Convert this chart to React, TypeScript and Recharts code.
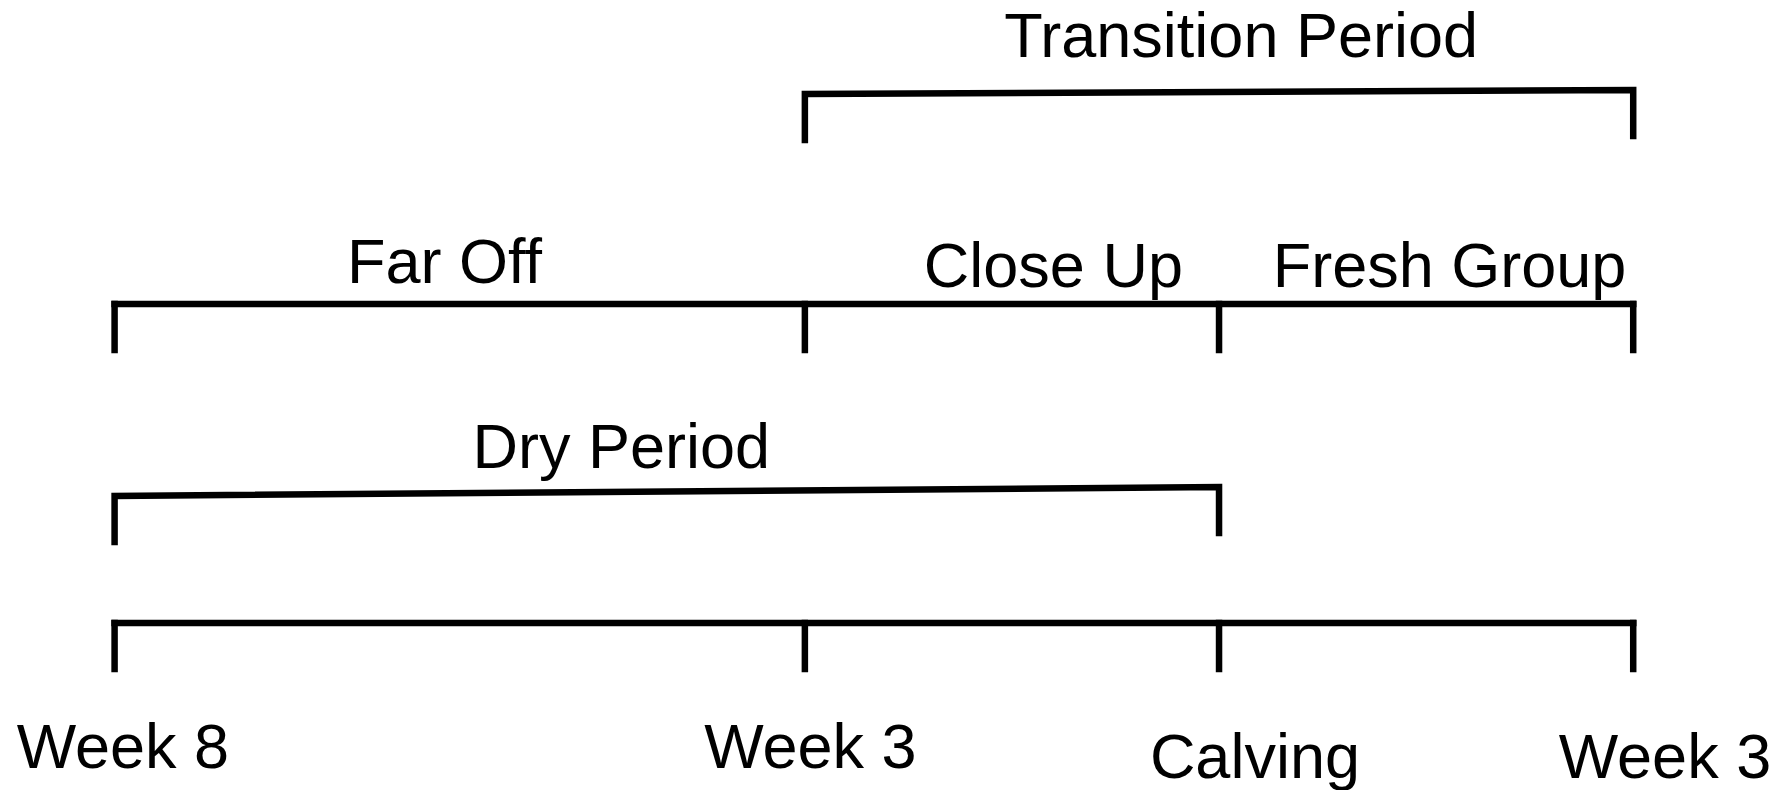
import React from 'react'
import { ComposedChart, Line, Scatter, XAxis, YAxis } from 'recharts'

// timeline, in weeks around calving
const weekTicks = [-8, -3, 0, 3]
const weekLabels = ['Week 8', 'Week 3', 'Calving', 'Week 3']
const weekLabelAt = [-7.94, -2.96, 0.26, 3.23]

// groups between consecutive ticks
const groupNames = ['Far Off', 'Close Up', 'Fresh Group']
const groupLabelAt = [-5.61, -1.2, 1.67]

// brackets spanning several groups
const periodNames = ['Dry Period', 'Transition Period']
const periodStart = [-8, -3]
const periodEnd = [0, 3]
const periodLabelAt = [-4.33, 0.16]

// layout (y in page pixels)
const W = 1783
const H = 790
const weekRowY = 623
const weekTextY = [768, 768, 778, 778]
const groupRowY = 304
const groupTextY = [283, 287, 287]
const periodBarY = [[496, 487], [94, 90]]
const periodTextY = [468, 57]
const tickLen = 46
const font = '"Liberation Sans", Arial, Helvetica, sans-serif'

type Pt = { x: number; y: number; name?: string }

const segments: Pt[][] = []

// bottom timeline
segments.push([{ x: weekTicks[0], y: weekRowY }, { x: weekTicks[weekTicks.length - 1], y: weekRowY }])
weekTicks.forEach(w => segments.push([{ x: w, y: weekRowY }, { x: w, y: weekRowY + tickLen }]))

// group row
segments.push([{ x: weekTicks[0], y: groupRowY }, { x: weekTicks[weekTicks.length - 1], y: groupRowY }])
weekTicks.forEach(w => segments.push([{ x: w, y: groupRowY }, { x: w, y: groupRowY + tickLen }]))

// period brackets
periodNames.forEach((_, i) => {
    const [yl, yr] = periodBarY[i]
    segments.push([
        { x: periodStart[i], y: yl + tickLen },
        { x: periodStart[i], y: yl },
        { x: periodEnd[i], y: yr },
        { x: periodEnd[i], y: yr + tickLen },
    ])
})

const labels: Pt[] = [
    ...weekLabels.map((name, i) => ({ x: weekLabelAt[i], y: weekTextY[i], name })),
    ...groupNames.map((name, i) => ({ x: groupLabelAt[i], y: groupTextY[i], name })),
    ...periodNames.map((name, i) => ({ x: periodLabelAt[i], y: periodTextY[i], name })),
]

const renderLabel = (props: any) => (
    <text x={props.cx} y={props.cy} textAnchor="middle" fontSize={63} fontFamily={font} fill="#000">
        {props.payload.name}
    </text>
)

export default function App() {
    return (
        <div style={{ position: 'absolute', left: 0, top: 0, background: '#fff' }}>
            <ComposedChart width={W} height={H} margin={{ top: 0, right: 0, bottom: 0, left: 0 }}>
                <XAxis type="number" dataKey="x" domain={[-8.83, 4.085]} allowDataOverflow hide />
                <YAxis type="number" dataKey="y" domain={[0, H]} reversed allowDataOverflow hide />
                {segments.map((seg, i) => (
                    <Line
                        key={'seg' + i}
                        data={seg}
                        dataKey="y"
                        stroke="#000"
                        strokeWidth={6.5}
                        strokeLinejoin="miter"
                        strokeLinecap="square"
                        dot={false}
                        activeDot={false}
                        isAnimationActive={false}
                    />
                ))}
                <Scatter data={labels} dataKey="y" shape={renderLabel} isAnimationActive={false} />
            </ComposedChart>
        </div>
    )
}
